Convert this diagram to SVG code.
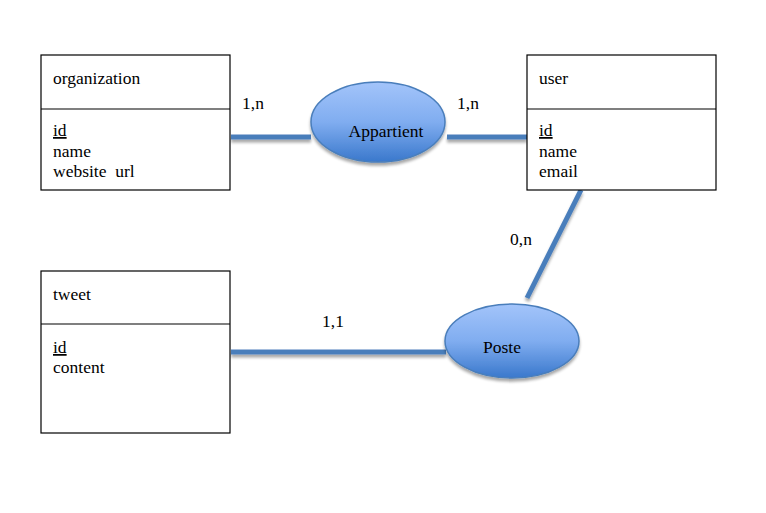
<svg xmlns="http://www.w3.org/2000/svg" width="766" height="513" viewBox="0 0 766 513">
<style>
text{font-family:"Liberation Serif","Times New Roman","DejaVu Serif",serif;font-size:17.5px;fill:#000}
.box{fill:#fff;stroke:#000;stroke-width:1.2}
.div{stroke:#000;stroke-width:1.2}
.rel{fill:url(#g);stroke:#4A7EBB;stroke-width:1.5;filter:url(#sh)}
.ln{stroke:#4A7EBB;stroke-width:5;fill:none;filter:url(#sh)}
.u{text-decoration:underline}
</style>
<defs>
<linearGradient id="g" x1="0" y1="0" x2="0" y2="1">
<stop offset="0" stop-color="#A3C4FA"/>
<stop offset="0.5" stop-color="#80ADF0"/>
<stop offset="1" stop-color="#3A78CC"/>
</linearGradient>
<filter id="sh" filterUnits="userSpaceOnUse" x="0" y="0" width="766" height="513">
<feGaussianBlur in="SourceAlpha" stdDeviation="1.5"/>
<feOffset dx="0" dy="3" result="b"/>
<feComponentTransfer><feFuncA type="linear" slope="0.35"/></feComponentTransfer>
<feMerge><feMergeNode/><feMergeNode in="SourceGraphic"/></feMerge>
</filter>
</defs>
<rect width="766" height="513" fill="#fff"/>
<g id="connectors">
<line class="ln" x1="231" y1="137" x2="311" y2="137"/>
<line class="ln" x1="447" y1="137" x2="527" y2="137"/>
<line class="ln" x1="231" y1="352" x2="446" y2="352"/>
<line class="ln" x1="581" y1="190" x2="527" y2="298"/>
<text x="242" y="109">1,n</text>
<text x="457" y="109">1,n</text>
<text x="510" y="245">0,n</text>
<text x="322" y="327">1,1</text>
</g>
<g id="organization">
<rect class="box" x="41" y="55" width="189" height="135"/>
<line class="div" x1="41" y1="109" x2="230" y2="109"/>
<text x="53" y="84">organization</text>
<text x="53" y="136" class="u">id</text>
<text x="53" y="157">name</text>
<text x="53" y="177" xml:space="preserve">website  url</text>
</g>
<g id="user">
<rect class="box" x="527" y="55" width="189" height="135"/>
<line class="div" x1="527" y1="109" x2="716" y2="109"/>
<text x="539" y="84">user</text>
<text x="539" y="136" class="u">id</text>
<text x="539" y="157">name</text>
<text x="539" y="177">email</text>
</g>
<g id="tweet">
<rect class="box" x="41" y="271" width="189" height="162"/>
<line class="div" x1="41" y1="324" x2="230" y2="324"/>
<text x="53" y="300">tweet</text>
<text x="53" y="353" class="u">id</text>
<text x="53" y="373">content</text>
</g>
<g id="Appartient">
<ellipse class="rel" cx="378" cy="122" rx="67" ry="40"/>
<text x="386" y="137" text-anchor="middle">Appartient</text>
</g>
<g id="Poste">
<ellipse class="rel" cx="512" cy="341" rx="67" ry="37"/>
<text x="502" y="353" text-anchor="middle">Poste</text>
</g>
</svg>
